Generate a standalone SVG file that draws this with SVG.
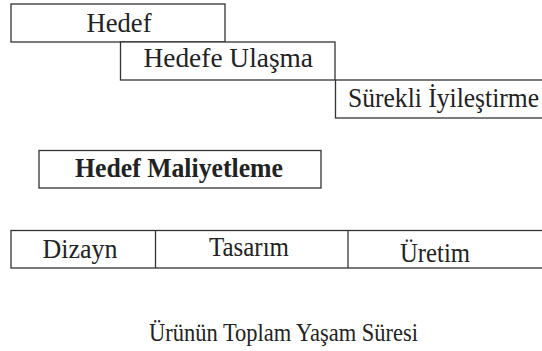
<svg xmlns="http://www.w3.org/2000/svg" width="542" height="351" viewBox="0 0 542 351">
<style>
.box{fill:#fff;stroke:#333;stroke-width:1.3}
.t{font-family:"Liberation Serif","Times New Roman",serif;font-size:28px;fill:#222}
.b{font-weight:bold}
</style>
<rect width="542" height="351" fill="#fff"/>
<g id="hedef">
<rect class="box" x="11" y="4" width="214" height="38"/>
<text class="t" x="86.5" y="32" textLength="65" lengthAdjust="spacingAndGlyphs">Hedef</text>
</g>
<g id="hedefe-ulasma">
<rect class="box" x="120.5" y="42" width="214.5" height="38"/>
<text class="t" x="143.5" y="67" textLength="169.5" lengthAdjust="spacingAndGlyphs">Hedefe  Ulaşma</text>
</g>
<g id="surekli-iyilestirme">
<rect class="box" x="335.5" y="80" width="220" height="38"/>
<text class="t" x="348" y="107" textLength="191" lengthAdjust="spacingAndGlyphs">Sürekli İyileştirme</text>
</g>
<g id="hedef-maliyetleme">
<rect class="box" x="39" y="150.5" width="282" height="37.5"/>
<text class="t b" x="75" y="177" textLength="208" lengthAdjust="spacingAndGlyphs">Hedef Maliyetleme</text>
</g>
<g id="asamalar">
<rect class="box" x="11" y="230.5" width="545" height="37.5"/>
<line class="box" x1="155.5" y1="230.5" x2="155.5" y2="268"/>
<line class="box" x1="348" y1="230.5" x2="348" y2="268"/>
<text class="t" x="42.5" y="258" textLength="75" lengthAdjust="spacingAndGlyphs">Dizayn</text>
<text class="t" x="209" y="256" textLength="80" lengthAdjust="spacingAndGlyphs">Tasarım</text>
<text class="t" x="400" y="262" textLength="70" lengthAdjust="spacingAndGlyphs">Üretim</text>
</g>
<g id="baslik">
<text class="t" style="font-size:26px" x="149" y="341" textLength="269" lengthAdjust="spacingAndGlyphs">Ürünün Toplam Yaşam Süresi</text>
</g>
<g id="connectors"></g>
</svg>
